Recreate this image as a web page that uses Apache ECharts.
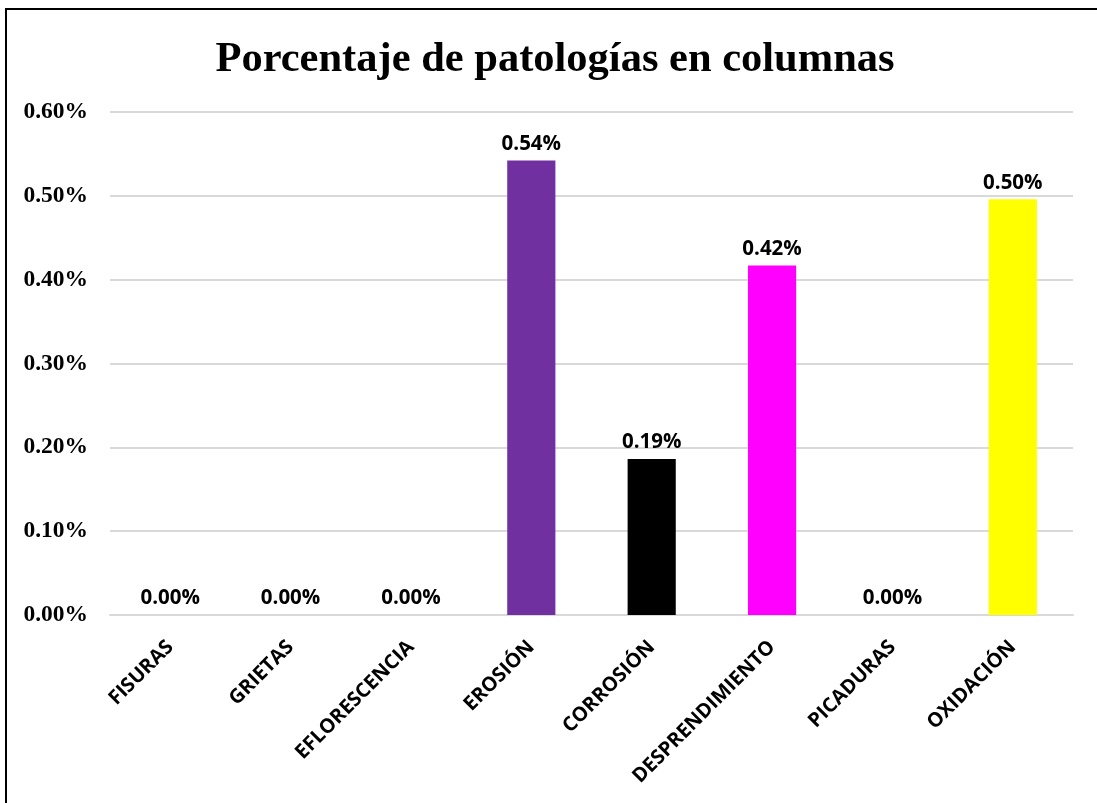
<!DOCTYPE html>
<html>
<head>
<meta charset="utf-8">
<script src="https://cdn.jsdelivr.net/npm/echarts@6/dist/echarts.min.js"></script>
<style>
  html, body { margin: 0; padding: 0; background: #fff; }
  #chart { width: 1097px; height: 803px; }
</style>
</head>
<body>
<div id="chart"></div>
<script>
// datos (porcentaje)
var categorias = ['FISURAS', 'GRIETAS', 'EFLORESCENCIA', 'EROSIÓN', 'CORROSIÓN', 'DESPRENDIMIENTO', 'PICADURAS', 'OXIDACIÓN'];
var valores = [0, 0, 0, 0.542, 0.186, 0.417, 0, 0.496];
var colores = ['#4472c4', '#4472c4', '#4472c4', '#7030a0', '#000000', '#ff00ff', '#4472c4', '#ffff00'];

var chart = echarts.init(document.getElementById('chart'));

var option = {
  backgroundColor: '#fff',
  animation: false,
  title: {
    text: 'Porcentaje de patologías en columnas',
    left: 550,
    textAlign: 'center',
    top: 34,
    textStyle: {
      fontFamily: 'Liberation Serif',
      fontWeight: 'bold',
      fontSize: 42.5,
      color: '#000'
    }
  },
  graphic: [{
    type: 'rect',
    shape: { x: 6, y: 9, width: 1200, height: 900 },
    style: { fill: 'none', stroke: '#000', lineWidth: 2 },
    silent: true
  }],
  grid: {
    left: 110,
    right: 24,
    top: 112,
    bottom: 188,
    containLabel: false
  },
  xAxis: {
    type: 'category',
    data: categorias,
    axisLine: { show: true, lineStyle: { color: '#d9d9d9', width: 2 } },
    axisTick: { show: false },
    axisLabel: {
      rotate: 45,
      margin: 29,
      interval: 0,
      color: '#000',
      fontFamily: 'Open Sans',
      fontWeight: 'bold',
      fontSize: 20
    }
  },
  yAxis: {
    type: 'value',
    min: 0,
    max: 0.6,
    interval: 0.1,
    axisLine: { show: false },
    axisTick: { show: false },
    splitLine: { lineStyle: { color: '#d9d9d9', width: 2 } },
    axisLabel: {
      margin: 22,
      color: '#000',
      fontFamily: 'Liberation Serif',
      fontWeight: 'bold',
      fontSize: 23.5,
      formatter: function (v) { return v.toFixed(2) + '%'; }
    }
  },
  series: [{
    type: 'bar',
    barWidth: '40%',
    data: valores.map(function (v, i) {
      return { value: v, itemStyle: { color: colores[i] } };
    }),
    label: {
      show: true,
      position: 'top',
      distance: 6,
      color: '#000',
      fontFamily: 'Open Sans',
      fontWeight: 'bold',
      fontSize: 20.5,
      formatter: function (p) { return p.value.toFixed(2) + '%'; }
    }
  }]
};

chart.setOption(option);
</script>
</body>
</html>
